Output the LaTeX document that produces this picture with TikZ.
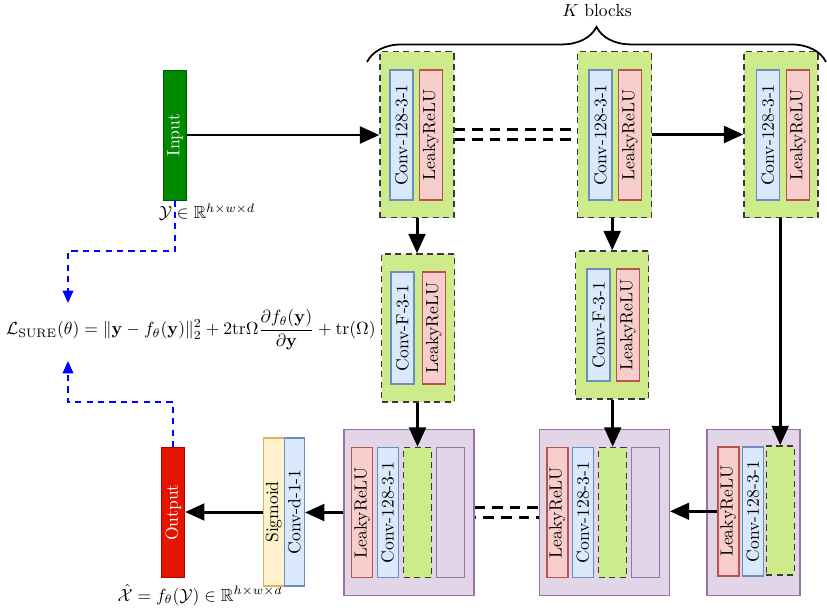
\documentclass[tikz,border=0pt]{standalone}
\usepackage{amsmath, amssymb}
\usepackage{tikz}
\usetikzlibrary{arrows.meta,decorations.pathreplacing,calc,positioning}

\definecolor{blkgreen}{HTML}{CDEB8B}
\definecolor{blkgreenline}{HTML}{36393D}
\definecolor{convfill}{HTML}{DAE8FC}
\definecolor{convline}{HTML}{6C8EBF}
\definecolor{relufill}{HTML}{F8CECC}
\definecolor{reluline}{HTML}{B85450}
\definecolor{catfill}{HTML}{E1D5E7}
\definecolor{catline}{HTML}{9673A6}
\definecolor{sigfill}{HTML}{FFF2CC}
\definecolor{sigline}{HTML}{D6B656}
\definecolor{infill}{HTML}{008A00}
\definecolor{inborder}{HTML}{005700}
\definecolor{outfill}{HTML}{E51400}
\definecolor{outborder}{HTML}{B20000}

\newcommand{\vtext}[1]{\rotatebox{90}{#1}}

\begin{document}
\begin{tikzpicture}[x=0.02cm, y=-0.02cm, every node/.style={font=\normalsize},
    sz/.style 2 args={minimum width=#1*0.02cm, minimum height=#2*0.02cm, inner sep=0pt},
    dashblk/.style={draw=blkgreenline, fill=blkgreen, line width=0.8pt, dash pattern=on 3.5pt off 2.5pt},
    convbox/.style={draw=convline, fill=convfill, line width=0.8pt},
    relubox/.style={draw=reluline, fill=relufill, line width=0.8pt},
    catbox/.style={draw=catline, fill=catfill, line width=0.8pt},
    sigbox/.style={draw=sigline, fill=sigfill, line width=0.8pt},
    flow/.style={line width=1.7pt, -{Triangle[length=11pt,width=9.5pt]}},
    skipline/.style={line width=1.7pt, dash pattern=on 6pt off 4pt},
    lossflow/.style={blue, line width=1.1pt, dash pattern=on 3.5pt off 3pt, -{Triangle[length=7pt,width=6pt]}}]
    \useasboundingbox (0,0) rectangle (827,612);

    % input / output
    \node[draw=inborder, fill=infill, text=white, sz={23}{130}] (in) at (175,135) {\vtext{Input}};
    \node[draw=outborder, fill=outfill, text=white, sz={23}{130}] (out) at (173.3,512.5) {\vtext{Output}};
    \node (ylab) at (207,212) {$\mathcal{Y}\in\mathbb{R}^{h\times w\times d}$};
    \node (xlab) at (200,595) {$\hat{\mathcal{X}}=f_\theta(\mathcal{Y})\in\mathbb{R}^{h\times w\times d}$};
    \node (loss) at (191,330) {$\displaystyle \mathcal{L}_{\mathrm{SURE}}(\theta)=\|\mathbf{y}-f_\theta(\mathbf{y})\|_2^2+2\mathrm{tr}\Omega\frac{\partial f_\theta(\mathbf{y})}{\partial\mathbf{y}}+\mathrm{tr}(\Omega)$};

    % top row, K blocks
    \foreach \n/\bx/\cx/\rx in {1/417/401.3/430.7, 2/614.7/600.3/630, 3/781/767.8/798} {
      \node[dashblk, sz={74}{166}] (T\n) at (\bx,134.5) {};
      \node[convbox, sz={23}{130}] (Tc\n) at (\cx,135) {\vtext{Conv-128-3-1}};
      \node[relubox, sz={23}{130}] (Tr\n) at (\rx,135) {\vtext{LeakyReLU}};
    }
    \draw[decorate, decoration={brace, amplitude=20pt}, line width=1pt] (367,62) -- (826,62);
    \node (kblk) at (597,10) {$K$ blocks};

    % middle row
    \foreach \n/\bx/\by/\cx/\rx in {1/418/328/402.3/433.8, 2/612.2/325/598.5/628} {
      \node[dashblk, sz={73}{148}] (M\n) at (\bx,\by) {};
      \node[convbox, sz={23}{112}] (Mc\n) at (\cx,\by) {\vtext{Conv-F-3-1}};
      \node[relubox, sz={23}{112}] (Mr\n) at (\rx,\by) {\vtext{LeakyReLU}};
    }

    % bottom row
    \foreach \n/\bx in {1/409, 2/604.2} {
      \node[catbox, sz={130}{166}] (B\n) at (\bx,512.5) {};
      \node[relubox, sz={21}{130}] (Br\n) at (\bx-46.8,512.5) {\vtext{LeakyReLU}};
      \node[convbox, sz={21}{130}] (Bc\n) at (\bx-21.3,512.5) {\vtext{Conv-128-3-1}};
      \node[dashblk, sz={28}{130}] (Bg\n) at (\bx+8.5,512.5) {};
      \node[catbox, sz={28}{130}] (Bp\n) at (\bx+41.5,512.5) {};
    }
    \node[catbox, sz={93}{166}] (B3) at (753.5,512.5) {};
    \node[relubox, sz={21}{129}] (Br3) at (728.3,511.3) {\vtext{LeakyReLU}};
    \node[convbox, sz={21}{129}] (Bc3) at (752.8,511.3) {\vtext{Conv-128-3-1}};
    \node[dashblk, sz={28}{129}] (Bg3) at (780.2,510.3) {};

    \node[sigbox, sz={21}{148}] (sig) at (273.8,512) {\vtext{Sigmoid}};
    \node[convbox, sz={20}{148}] (cd) at (294.3,512) {\vtext{Conv-d-1-1}};

    % connections
    \draw[flow] (in.east) -- (in.east -| T1.west);
    \draw[skipline] ([yshift=2.7pt]T1.east) -- ([yshift=2.7pt]T1.east -| T2.west);
    \draw[skipline] ([yshift=-2.7pt]T1.east) -- ([yshift=-2.7pt]T1.east -| T2.west);
    \draw[flow] (T2.east) -- (T3.west);
    \draw[flow] (T1.south) -- (T1.south |- M1.north);
    \draw[flow] (M2.north |- T2.south) -- (M2.north);
    \draw[flow] (Bg3.north |- T3.south) -- (Bg3.north);
    \draw[flow] (Bg1.north |- M1.south) -- (Bg1.north);
    \draw[flow] (Bg2.north |- M2.south) -- (Bg2.north);
    \draw[flow] (Br3.west) -- (Br3.west -| B2.east);
    \draw[skipline] ([yshift=2.7pt]B1.east) -- ([yshift=2.7pt]B1.east -| B2.west);
    \draw[skipline, dash phase=5pt] ([yshift=-2.7pt]B1.east) -- ([yshift=-2.7pt]B1.east -| B2.west);
    \draw[flow] (B1.west) -- (B1.west -| cd.east);
    \draw[flow] (sig.west) -- (sig.west -| out.east);

    % loss feedback
    \coordinate (lossin) at (68,303);
    \coordinate (lossout) at (68,361);
    \draw[lossflow] (in.south) -- ++(0,51) -| (lossin);
    \draw[lossflow] (out.north) -- ++(0,-45) -| (lossout);
\end{tikzpicture}
\end{document}
